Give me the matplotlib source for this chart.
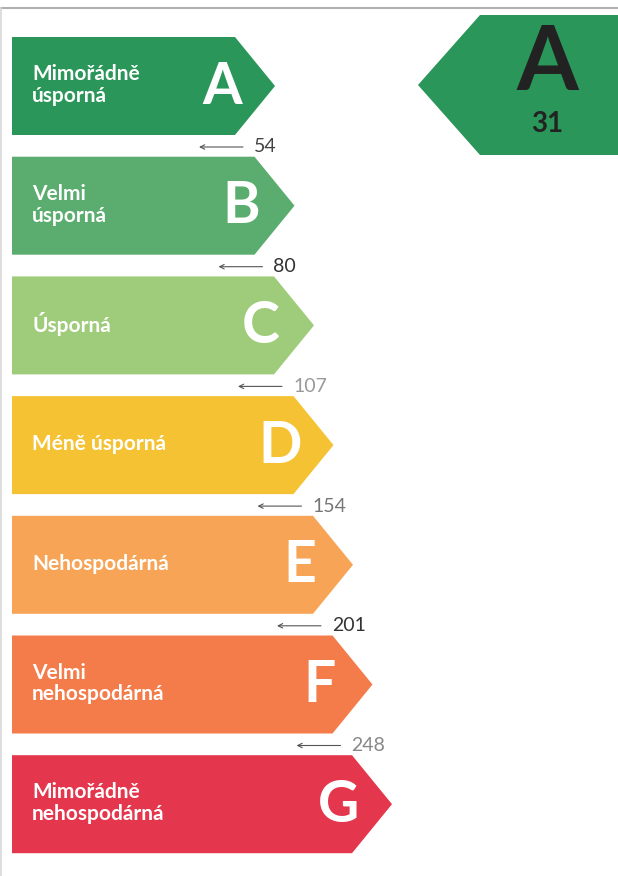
import matplotlib.pyplot as plt
from matplotlib.patches import Polygon

# data
tridy = ["A", "B", "C", "D", "E", "F", "G"]
popisky = ["Mimořádně\núsporná", "Velmi\núsporná", "Úsporná", "Méně úsporná",
           "Nehospodárná", "Velmi\nnehospodárná", "Mimořádně\nnehospodárná"]
hranice = [54, 80, 107, 154, 201, 248]
barvy = ["#2b9659", "#5aad6e", "#9fcc7a", "#f5c234", "#f8a456", "#f47c4a", "#e4364c"]
hodnota = 31
trida_budovy = "A"

plt.rcParams['font.family'] = ['Lato', 'DejaVu Sans']

fig = plt.figure(figsize=(6.18, 8.76), dpi=100)
ax = fig.add_axes([0, 0, 1, 1])
ax.set_xlim(0, 618)
ax.set_ylim(876, 0)
ax.axis("off")

# ramecek nahore a vlevo
ax.plot([0, 618], [8, 8], color="#b0b0b0", lw=1.5)
ax.plot([1, 1], [8, 876], color="#d8d8d8", lw=1.2)

x0 = 12
krok = 119.7
for i, (t, p, c) in enumerate(zip(tridy, popisky, barvy)):
    top = 37 + i * krok
    bot = top + 98
    mid = (top + bot) / 2
    hrot = 275 + i * 19.5
    konec = hrot - 40
    ax.add_patch(Polygon([(x0, top), (konec, top), (hrot, mid), (konec, bot), (x0, bot)],
                         closed=True, color=c, lw=0))
    ax.text(32, mid - 1, p, color="white", fontsize=15, fontweight="bold",
            ha="left", va="center", linespacing=1.1)
    ax.text(hrot - 53, mid + 1, t, color="white", fontsize=41, fontweight="bold",
            ha="center", va="center")

# hranice mezi tridami
barvy_cisel = ["#444444", "#333333", "#999999", "#777777", "#333333", "#888888"]
for i, h in enumerate(hranice):
    y = 147 + i * krok
    hrot = 275 + i * 19.5
    ax.annotate("", xy=(hrot - 76, y), xytext=(hrot - 32, y),
                arrowprops=dict(arrowstyle="->", color="#555555", lw=0.8,
                                shrinkA=0, shrinkB=0, mutation_scale=8))
    ax.text(hrot - 21, y, str(h), color=barvy_cisel[i], fontsize=14,
            ha="left", va="center")

# ukazatel budovy
ax.add_patch(Polygon([(418, 85), (480, 15), (618, 15), (618, 155), (480, 155)],
                     closed=True, color=barvy[0], lw=0))
ax.text(547, 64, trida_budovy, color="#222222", fontsize=64, fontweight="bold",
        ha="center", va="center")
ax.text(547, 124, str(hodnota), color="#222222", fontsize=20, fontweight="bold",
        ha="center", va="center")

fig.savefig("out.png", dpi=100)
